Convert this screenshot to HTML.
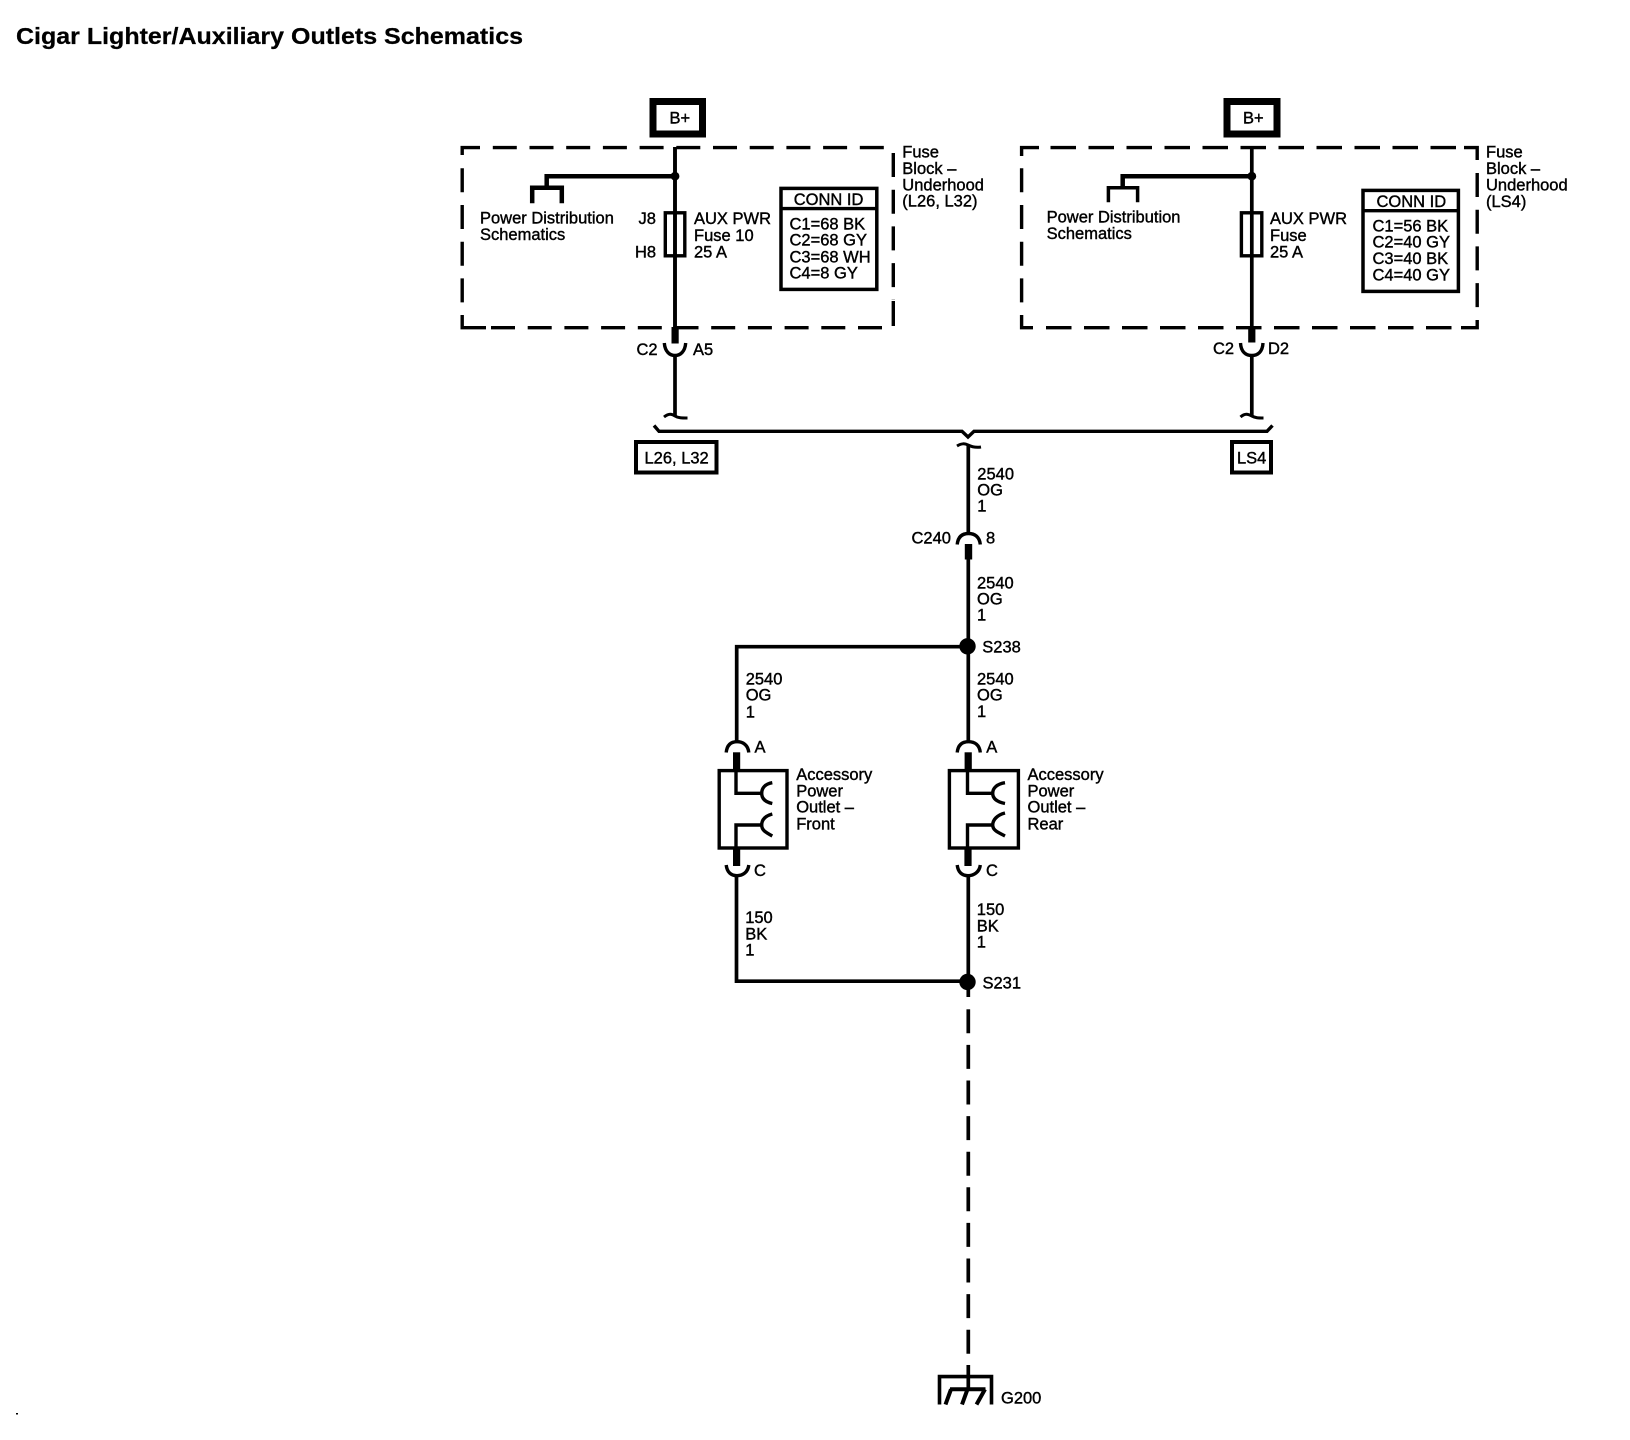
<!DOCTYPE html>
<html><head><meta charset="utf-8"><style>
html,body{margin:0;padding:0;background:#fff}
svg{display:block}
text{font-family:"Liberation Sans",sans-serif;font-size:16.5px;fill:#000;stroke:#000;stroke-width:.4px}
.t{font-weight:bold;font-size:23.5px;stroke:#000;stroke-width:.25px}
.l{fill:none;stroke:#000;stroke-width:3.7;stroke-linecap:butt}
.h{fill:none;stroke:#000;stroke-width:4.5}
.d{fill:none;stroke:#000;stroke-width:3.4;stroke-dasharray:24 12.7}
.f{fill:none;stroke:#000;stroke-width:3.4}
.b{fill:#000}
</style></head><body>
<svg width="1630" height="1440" viewBox="0 0 1630 1440" xmlns="http://www.w3.org/2000/svg">
<rect width="1630" height="1440" fill="#fff"/>
<text x="16" y="44" class="t" textLength="507" lengthAdjust="spacingAndGlyphs">Cigar Lighter/Auxiliary Outlets Schematics</text>
<rect x="16" y="1413" width="2" height="1.5" class="b"/>

<!-- B+ boxes -->
<rect x="653" y="101.5" width="49.5" height="32.5" fill="none" stroke="#000" stroke-width="7"/>
<text x="669.5" y="123.5">B+</text>
<rect x="1227" y="101.5" width="50" height="32.5" fill="none" stroke="#000" stroke-width="7"/>
<text x="1243" y="123.5">B+</text>

<!-- Fuse block 1 dashed -->
<path class="f" d="M480 147.6H462.2V155"/>
<path class="d" d="M492.8 147.6H887"/>
<path class="d" d="M462.2 168.3V315"/>
<path class="f" d="M462.2 315V327.7H486"/>
<path class="d" d="M882 327.7H490"/>
<path class="d" d="M893.3 153V300"/>
<path class="f" d="M893.3 301V326"/>

<!-- Fuse block 2 dashed -->
<path class="f" d="M1039 147.6H1021.6V156"/>
<path class="d" style="stroke-dasharray:25.5 12.5" d="M1050.5 147.6H1460"/>
<path class="f" d="M1464 147.6H1477.2V160"/>
<path class="d" d="M1021.6 168.3V315"/>
<path class="f" d="M1021.6 315V327.7H1033"/>
<path class="d" style="stroke-dasharray:25.5 12.5" d="M1046 327.7H1462"/>
<path class="f" d="M1476 327.7H1477.2V320M1461 327.7H1476"/>
<path class="d" d="M1477.2 173V310"/>

<!-- Left feed -->
<path class="h" style="stroke-width:3.9" d="M675 147V332"/>
<path class="h" d="M675 176.2H546.7V188"/>
<circle cx="675" cy="176.2" r="4.4" class="b"/>
<path class="h" d="M532.2 203.3V187.7H561.8V203.3"/>
<rect x="665.3" y="212.8" width="19.5" height="43" class="f"/>
<rect x="671.5" y="327" width="7.2" height="16.5" class="b"/>
<path class="f" d="M664.3 343C665 352 670 355.5 675 355.5S685 352 685.7 343"/>
<path class="l" d="M675 355V416"/>
<path class="f" style="stroke-width:3" d="M664 417C669 413 672 414 675 416S682 418 687.5 418"/>

<!-- Right feed -->
<path class="l" d="M1251.8 147V332"/>
<path class="h" d="M1251.8 176.2H1122.7V187"/>
<circle cx="1251.8" cy="176.2" r="4.4" class="b"/>
<path class="f" style="stroke-width:3.5" d="M1108.4 202.3V187.7H1137.6V202.3"/>
<rect x="1241.4" y="212.8" width="20.4" height="43" class="f"/>
<rect x="1248.2" y="327" width="7.2" height="15.5" class="b"/>
<path class="f" d="M1240.5 343C1241 352 1246 355.5 1251.8 355.5S1262.5 352 1263 343"/>
<path class="l" d="M1251.8 355V416"/>
<path class="f" style="stroke-width:3" d="M1240.5 417C1245 413 1248 414 1251.8 416S1258 418 1263.5 418"/>

<!-- Bus -->
<path class="f" d="M654 425.5L659 431.3H962L968 437L974 431.3H1267L1272.5 425.5"/>
<path class="f" style="stroke-width:3" d="M957 446C962 443 965 443.5 968 445S975 448 981 447"/>
<path class="l" d="M968.3 445V534"/>
<rect x="636" y="442" width="80.5" height="30.5" fill="none" stroke="#000" stroke-width="4"/>
<text x="644.5" y="463.5">L26, L32</text>
<rect x="1232" y="442" width="39" height="30.5" fill="none" stroke="#000" stroke-width="4"/>
<text x="1237" y="463.5">LS4</text>

<!-- CONN ID 1 -->
<rect x="781" y="188.4" width="95.8" height="101" fill="none" stroke="#000" stroke-width="3.5"/>
<path class="f" d="M781 208.6H877"/>
<text x="793.7" y="205">CONN ID</text>
<text x="789.5" y="229.3">C1=68 BK</text>
<text x="789.5" y="245.7">C2=68 GY</text>
<text x="789.5" y="262.3">C3=68 WH</text>
<text x="789.5" y="278.7">C4=8 GY</text>

<!-- CONN ID 2 -->
<rect x="1363" y="190.4" width="95.4" height="101" fill="none" stroke="#000" stroke-width="3.5"/>
<path class="f" d="M1363 210.7H1458"/>
<text x="1376.5" y="207">CONN ID</text>
<text x="1372.5" y="231.3">C1=56 BK</text>
<text x="1372.5" y="247.7">C2=40 GY</text>
<text x="1372.5" y="264">C3=40 BK</text>
<text x="1372.5" y="280.3">C4=40 GY</text>

<!-- Block 1 labels -->
<text x="480" y="223.3">Power Distribution</text>
<text x="480" y="240">Schematics</text>
<text x="638.5" y="224">J8</text>
<text x="635" y="257.3">H8</text>
<text x="694" y="224">AUX PWR</text>
<text x="694" y="241">Fuse 10</text>
<text x="694" y="257.3">25 A</text>
<text x="902.3" y="157.3">Fuse</text>
<text x="902.3" y="174">Block –</text>
<text x="902.3" y="190.7">Underhood</text>
<text x="902.3" y="206.7">(L26, L32)</text>
<text x="636.5" y="355">C2</text>
<text x="693" y="355">A5</text>

<!-- Block 2 labels -->
<text x="1046.6" y="222.7">Power Distribution</text>
<text x="1046.6" y="239">Schematics</text>
<text x="1270" y="224">AUX PWR</text>
<text x="1270" y="241">Fuse</text>
<text x="1270" y="257.3">25 A</text>
<text x="1486" y="157.3">Fuse</text>
<text x="1486" y="174">Block –</text>
<text x="1486" y="190.7">Underhood</text>
<text x="1486" y="207">(LS4)</text>
<text x="1213" y="354">C2</text>
<text x="1268" y="354">D2</text>

<!-- Center trunk -->
<text x="977.3" y="479.3">2540</text>
<text x="977.3" y="495.3">OG</text>
<text x="977.3" y="511.7">1</text>
<path class="f" d="M957.2 544.5C958 537 962 533.5 968.5 533.5S979.5 537 980.3 544.5"/>
<rect x="964.8" y="544" width="7.4" height="15.5" class="b"/>
<text x="911.5" y="543.3">C240</text>
<text x="986" y="543.3">8</text>
<path class="l" d="M968.3 559V646"/>
<text x="977" y="588.3">2540</text>
<text x="977" y="604.3">OG</text>
<text x="977" y="620.7">1</text>
<circle cx="967.5" cy="646.3" r="8.2" class="b"/>
<text x="982.3" y="652.3">S238</text>
<path class="l" d="M968 646.7H736.7V743"/>
<path class="l" d="M968.3 646V743"/>
<text x="745.7" y="684.3">2540</text>
<text x="745.7" y="700.7">OG</text>
<text x="745.7" y="717.3">1</text>
<text x="977" y="684.3">2540</text>
<text x="977" y="700.7">OG</text>
<text x="977" y="717">1</text>

<!-- Front outlet -->
<path class="f" d="M726.2 752.5C727 745 731 741.7 737 741.7S748 745 748.8 752.5"/>
<text x="754.5" y="752.5">A</text>
<rect x="733" y="752.3" width="7.2" height="18" class="b"/>
<rect x="719.2" y="770.6" width="67.8" height="77.4" fill="none" stroke="#000" stroke-width="3.4"/>
<path class="f" d="M736 770V793.3H762"/>
<path class="f" d="M772.3 782.7C765 784 761.7 788 761.7 793.3S765 802 772.3 803.5"/>
<path class="f" d="M736 849V825H762"/>
<path class="f" d="M772.3 814C765 816 761.7 820 761.7 825S765 832 772.3 836"/>
<rect x="733" y="848" width="7.2" height="18" class="b"/>
<path class="f" d="M726.2 865C727 872 731 875.7 737 875.7S748 872 748.8 865"/>
<text x="754" y="876">C</text>
<text x="796.2" y="780">Accessory</text>
<text x="796.2" y="796.7">Power</text>
<text x="796.2" y="812.7">Outlet –</text>
<text x="796.2" y="829.3">Front</text>
<path class="l" d="M736.5 875V981.2H968"/>
<text x="745.2" y="923">150</text>
<text x="745.2" y="939.3">BK</text>
<text x="745.2" y="955.7">1</text>

<!-- Rear outlet -->
<path class="f" d="M957.2 752.5C958 745 962 741.7 968.5 741.7S979.5 745 980.3 752.5"/>
<text x="986.2" y="752.5">A</text>
<rect x="964.6" y="752.3" width="7.2" height="18" class="b"/>
<rect x="949.4" y="770.6" width="69" height="77.4" fill="none" stroke="#000" stroke-width="3.4"/>
<path class="f" d="M967.5 770V793.3H993"/>
<path class="f" d="M1005 782.7C997 784 992.7 788 992.7 793.3S997 802 1005 803.5"/>
<path class="f" d="M967.5 849V825H993"/>
<path class="f" d="M1005 813C997 815 992.7 820 992.7 825S997 832 1005 836"/>
<rect x="964.4" y="848" width="7.2" height="18" class="b"/>
<path class="f" d="M957.2 865C958 872 962 875.7 968 875.7S979.5 872 980.3 865"/>
<text x="986" y="876">C</text>
<text x="1027.5" y="780">Accessory</text>
<text x="1027.5" y="796.7">Power</text>
<text x="1027.5" y="812.7">Outlet –</text>
<text x="1027.5" y="829.3">Rear</text>
<path class="l" d="M968.3 875V997"/>
<text x="976.8" y="915">150</text>
<text x="976.8" y="931.7">BK</text>
<text x="976.8" y="947.7">1</text>
<circle cx="967.5" cy="982" r="8.2" class="b"/>
<text x="982.5" y="988.3">S231</text>

<!-- Dashed ground wire -->
<path class="l" style="stroke-dasharray:24 11.6" d="M968.3 1009.3V1355"/>
<path class="l" d="M968.3 1365V1376"/>
<path class="f" style="stroke-width:3.6" d="M939.5 1404.5V1376.6H991.5V1404.5"/>
<path class="l" d="M968.3 1376V1390"/>
<path class="f" style="stroke-width:4" d="M950 1389.3H985.5M951 1389.3L945.5 1404.5M967.5 1389.3L962 1404.5M985 1389.3L976.5 1404.5"/>
<text x="1001" y="1403.3">G200</text>
</svg>
</body></html>
